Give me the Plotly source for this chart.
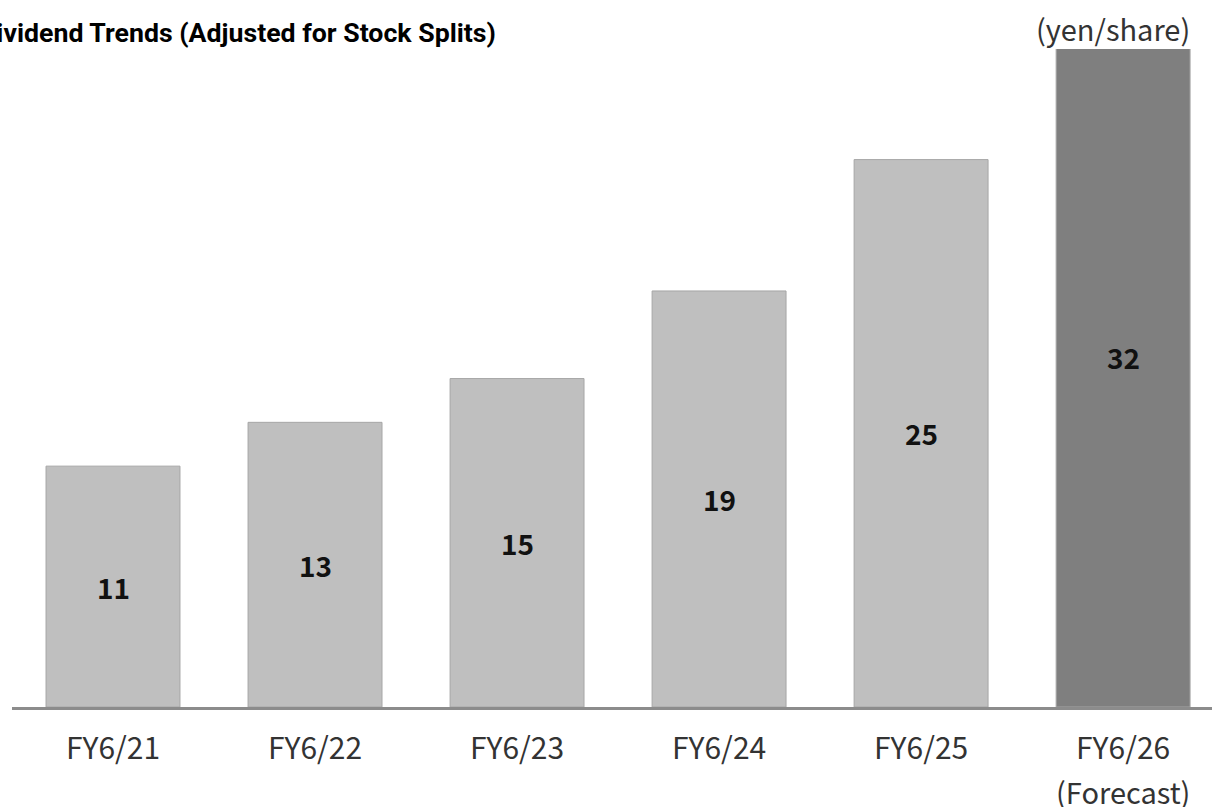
import plotly.graph_objects as go

categories = ["FY6/21", "FY6/22", "FY6/23", "FY6/24", "FY6/25", "FY6/26"]
dividends = [11, 13, 15, 19, 25, 32]
bar_colors = ["#bfbfbf", "#bfbfbf", "#bfbfbf", "#bfbfbf", "#bfbfbf", "#7f7f7f"]
value_labels = ["11", "13", "15", "19", "25", "32"]

JP = "Noto Sans CJK JP"

fig = go.Figure()
fig.add_trace(go.Bar(
    x=categories, y=dividends,
    marker=dict(color=bar_colors, line=dict(color="#a6a6a6", width=1)),
    hoverinfo="skip",
))

for c, v, t in zip(categories, dividends, value_labels):
    fig.add_annotation(x=c, y=v / 2, text=t, showarrow=False, xref="x", yref="y",
                       font=dict(family=JP, size=28, color="#111111", weight="bold"))

fig.add_annotation(xref="paper", yref="paper", x=-0.0290, y=1.0, yshift=16,
                   xanchor="left", yanchor="middle", showarrow=False,
                   text="Dividend Trends (Adjusted for Stock Splits)",
                   font=dict(family="Roboto", size=26.7, color="#000000", weight="bold"))
fig.add_annotation(xref="paper", yref="paper", x=0.9833, y=1.0, yshift=21,
                   xanchor="right", yanchor="middle", showarrow=False,
                   text="(yen/share)",
                   font=dict(family=JP, size=29, color="#333333"))
fig.add_annotation(xref="x", yref="paper", x=categories[-1], y=0, yshift=-84,
                   xanchor="center", yanchor="middle", showarrow=False,
                   text="(Forecast)",
                   font=dict(family=JP, size=29, color="#333333"))

fig.update_layout(
    width=1212, height=807,
    margin=dict(l=12, r=0, t=49, b=100),
    paper_bgcolor="white", plot_bgcolor="white",
    showlegend=False,
    bargap=0.337,
    xaxis=dict(range=[-0.5, 5.44], showline=True, linecolor="#8c8c8c", linewidth=2.5,
               ticks="", showgrid=False, ticklabelstandoff=13,
               tickfont=dict(family=JP, size=30, color="#333333")),
    yaxis=dict(range=[0, 30.05], visible=False, showgrid=False),
)

fig.write_html("out.html", config={"displayModeBar": False},
               post_script="document.body.style.margin='0';document.body.style.overflow='hidden';")
